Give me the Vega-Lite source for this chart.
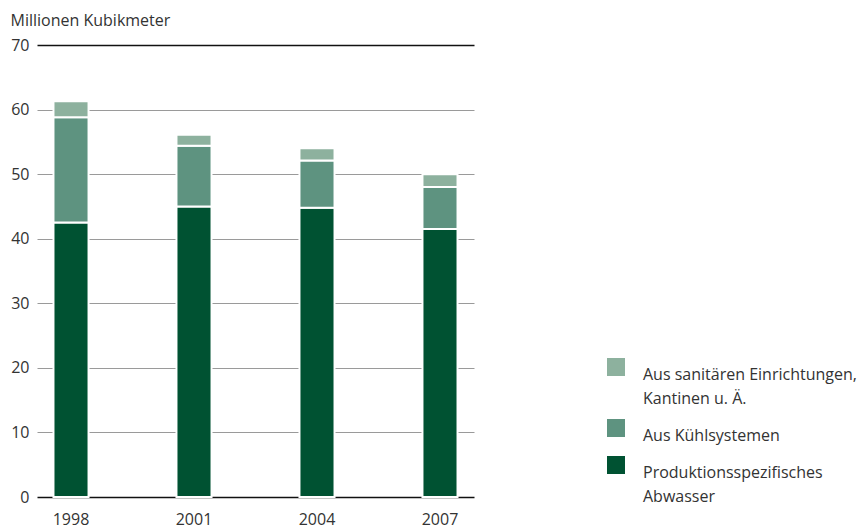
{
  "$schema": "https://vega.github.io/schema/vega-lite/v6.json",
  "autosize": {"type": "none"},
  "padding": {"left": 37, "top": 45, "right": 390, "bottom": 34},
  "width": 437,
  "height": 452,
  "background": "white",
  "config": {"view": {"stroke": null}, "style": {"guide-label": {"lineHeight": 24}}},
  "data": {"values": [
    {"jahr": "1998", "kategorie": "Produktionsspezifisches|Abwasser", "rang": 1, "wert": 42.5},
    {"jahr": "1998", "kategorie": "Aus Kühlsystemen", "rang": 2, "wert": 16.3},
    {"jahr": "1998", "kategorie": "Aus sanitären Einrichtungen,|Kantinen u. Ä.", "rang": 3, "wert": 2.5},
    {"jahr": "2001", "kategorie": "Produktionsspezifisches|Abwasser", "rang": 1, "wert": 45.0},
    {"jahr": "2001", "kategorie": "Aus Kühlsystemen", "rang": 2, "wert": 9.4},
    {"jahr": "2001", "kategorie": "Aus sanitären Einrichtungen,|Kantinen u. Ä.", "rang": 3, "wert": 1.7},
    {"jahr": "2004", "kategorie": "Produktionsspezifisches|Abwasser", "rang": 1, "wert": 44.8},
    {"jahr": "2004", "kategorie": "Aus Kühlsystemen", "rang": 2, "wert": 7.3},
    {"jahr": "2004", "kategorie": "Aus sanitären Einrichtungen,|Kantinen u. Ä.", "rang": 3, "wert": 1.9},
    {"jahr": "2007", "kategorie": "Produktionsspezifisches|Abwasser", "rang": 1, "wert": 41.5},
    {"jahr": "2007", "kategorie": "Aus Kühlsystemen", "rang": 2, "wert": 6.5},
    {"jahr": "2007", "kategorie": "Aus sanitären Einrichtungen,|Kantinen u. Ä.", "rang": 3, "wert": 2.0}
  ]},
  "mark": {"type": "bar", "stroke": "white", "strokeWidth": 2},
  "encoding": {
    "x": {
      "field": "jahr", "type": "ordinal",
      "scale": {"paddingInner": 0.715, "paddingOuter": 0.134},
      "axis": {
        "title": null, "labelAngle": 0, "domain": false, "ticks": false,
        "labelPadding": 14, "labelFontSize": 16, "labelColor": "#333333",
        "labelFont": "Open Sans"
      }
    },
    "y": {
      "field": "wert", "type": "quantitative", "aggregate": "sum", "stack": "zero",
      "scale": {"domain": [0, 70], "nice": false},
      "axis": {
        "values": [0, 10, 20, 30, 40, 50, 60, 70],
        "title": "Millionen Kubikmeter",
        "titleAngle": 0, "titleAlign": "left", "titleBaseline": "alphabetic",
        "titleX": -27, "titleY": -20,
        "titleFont": "Open Sans", "titleFontSize": 16, "titleFontWeight": "normal",
        "titleColor": "#333333",
        "domain": false, "ticks": false, "labelPadding": 8,
        "labelFontSize": 16, "labelColor": "#333333", "labelFont": "Open Sans",
        "grid": true,
        "gridColor": {"condition": {"test": "datum.value === 0 || datum.value === 70", "value": "#111111"}, "value": "#9a9a9a"},
        "gridWidth": {"condition": {"test": "datum.value === 0 || datum.value === 70", "value": 1.5}, "value": 1}
      }
    },
    "color": {
      "field": "kategorie", "type": "nominal",
      "scale": {
        "domain": ["Aus sanitären Einrichtungen,|Kantinen u. Ä.", "Aus Kühlsystemen", "Produktionsspezifisches|Abwasser"],
        "range": ["#8db19e", "#5e9380", "#005232"]
      },
      "legend": {
        "title": null, "orient": "none", "legendX": 570, "legendY": 313,
        "symbolType": "square", "symbolSize": 324, "symbolStrokeWidth": 0,
        "symbolOpacity": 1,
        "labelExpr": "split(datum.label, '|')",
        "labelBaseline": "top",
        "labelFont": "Open Sans", "labelFontSize": 16, "labelColor": "#333333",
        "labelOffset": 18, "labelLimit": 400, "rowPadding": 12
      }
    },
    "order": {"field": "rang", "type": "quantitative"}
  }
}
